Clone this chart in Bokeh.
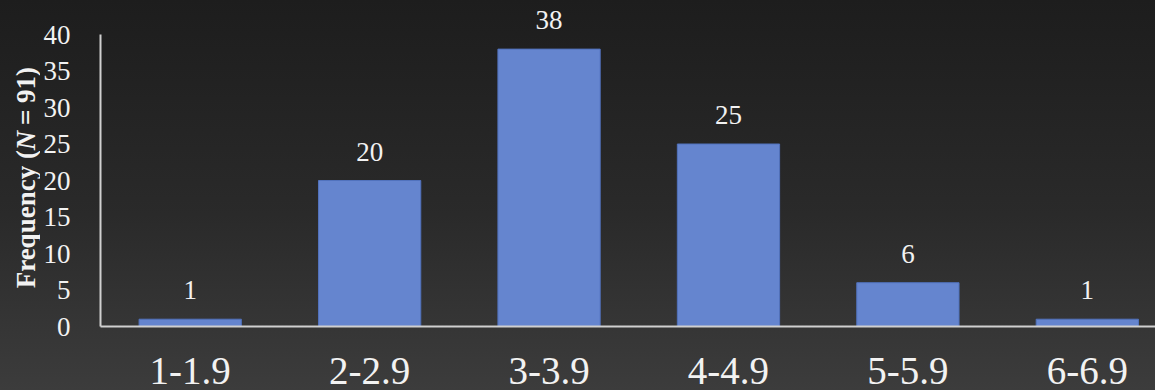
import math
from bokeh.plotting import figure
from bokeh.layouts import row
from bokeh.models import ColumnDataSource, FixedTicker
from bokeh.core.properties import value
from bokeh.embed import file_html
from bokeh.resources import INLINE

# Score bins and how many respondents fell in each
bins = ["1-1.9", "2-2.9", "3-3.9", "4-4.9", "5-5.9", "6-6.9"]
counts = [1, 20, 38, 25, 6, 1]
y_ticks = [0, 5, 10, 15, 20, 25, 30, 35, 40]

FONT = "Liberation Serif"
TEXT_COLOR = "#f2f2f2"
BAR_COLOR = "#6585cf"
TITLE_W = 40

xs = list(range(len(bins)))
source = ColumnDataSource(dict(
    x=xs,
    count=counts,
    label=[str(c) for c in counts],
))

# ---- main chart -------------------------------------------------------
p = figure(
    width=1155 - TITLE_W, height=390,
    x_range=(-0.5, 5.38), y_range=(0, 44.66),
    output_backend="svg", toolbar_location=None,
    min_border_left=100 - TITLE_W, min_border_right=0,
    min_border_top=0, min_border_bottom=64,
)
p.background_fill_alpha = 0
p.border_fill_alpha = 0
p.outline_line_color = None
p.grid.visible = False

p.vbar(x="x", top="count", width=0.57, source=source,
       fill_color=BAR_COLOR, line_color="#5172bd", line_width=1)

p.text(x="x", y="count", text="label", source=source,
       text_font=value(FONT), text_font_size="27px", text_color=TEXT_COLOR,
       text_align="center", text_baseline="bottom", y_offset=-20)

# Category axis
p.xaxis.ticker = FixedTicker(ticks=xs)
p.xaxis.major_label_overrides = {i: b for i, b in enumerate(bins)}
p.xaxis.major_label_text_font = FONT
p.xaxis.major_label_text_font_size = "39px"
p.xaxis.major_label_text_color = TEXT_COLOR
p.xaxis.major_label_standoff = 25
p.xaxis.major_tick_line_color = None
p.xaxis.minor_tick_line_color = None
p.xaxis.axis_line_color = "#d0d0d0"
p.xaxis.axis_line_width = 2

# Frequency axis
p.yaxis.ticker = FixedTicker(ticks=y_ticks)
p.yaxis.bounds = (0, 40)
p.yaxis.major_label_text_font = FONT
p.yaxis.major_label_text_font_size = "27px"
p.yaxis.major_label_text_color = TEXT_COLOR
p.yaxis.major_label_standoff = 24
p.yaxis.major_tick_line_color = None
p.yaxis.minor_tick_line_color = None
p.yaxis.axis_line_color = "#d0d0d0"
p.yaxis.axis_line_width = 2

# ---- vertical axis title, set in pieces so N can be italic -------------
t = figure(
    width=TITLE_W, height=390,
    x_range=(0, TITLE_W), y_range=(0, 390),
    output_backend="svg", toolbar_location=None,
    x_axis_location=None, y_axis_location=None,
    min_border=0,
)
t.background_fill_alpha = 0
t.border_fill_alpha = 0
t.outline_line_color = None
t.grid.visible = False

title_x = 25
title_style = dict(angle=math.pi / 2, text_font=value(FONT), text_font_size="27px",
                   text_color=TEXT_COLOR, text_baseline="middle")
t.text(x=[title_x], y=[211], text=["Frequency ("], text_font_style="bold",
       text_align="right", **title_style)
t.text(x=[title_x], y=[211], text=["N"], text_font_style="bold italic",
       text_align="left", **title_style)
t.text(x=[title_x], y=[241], text=["= 91)"], text_font_style="bold",
       text_align="left", **title_style)

layout = row(t, p, spacing=0)
layout.styles = {"background": "linear-gradient(to bottom, #1d1d1d 0%, #2a2a2a 55%, #3c3c3c 100%)"}

open("out.html", "w").write(file_html(layout, INLINE))
